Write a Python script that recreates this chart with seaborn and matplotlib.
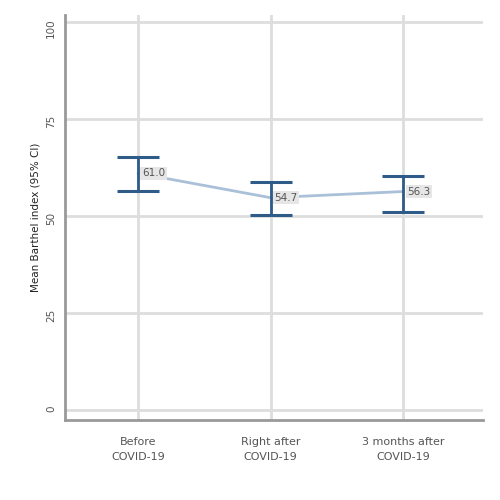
import numpy as np
import matplotlib
matplotlib.use("Agg")
import matplotlib.pyplot as plt
import pandas as pd
import seaborn as sns

categories = ["Before\nCOVID-19", "Right after\nCOVID-19", "3 months after\nCOVID-19"]
means = [61.0, 54.7, 56.3]
ci_low = [56.4, 50.3, 51.0]
ci_high = [65.1, 58.7, 60.3]

df = pd.DataFrame({"period": categories, "mean": means, "lo": ci_low, "hi": ci_high})

sns.set_style("whitegrid")
plt.rcParams['font.family'] = ['DejaVu Sans']
plt.rcParams['font.size'] = 7

fig = plt.figure(figsize=(5, 5), dpi=100)
ax = fig.add_axes([0.13, 0.16, 0.836, 0.81])

sns.lineplot(data=df, x="period", y="mean", sort=False, color="#a9c0d8", linewidth=2, ax=ax)
xs = np.arange(len(categories))
ax.errorbar(xs, df["mean"], yerr=[df["mean"] - df["lo"], df["hi"] - df["mean"]],
            fmt="none", ecolor="#2f5b88", elinewidth=2, capsize=15, capthick=2.2)

for x, m in zip(xs, means):
    ax.text(x + 0.03, m, f"{m:.1f}", ha="left", va="center", fontsize=7.5, color="#555555",
            bbox=dict(boxstyle="square,pad=0.15", fc="#e6e6e6", ec="none"))

ax.set_xlim(-0.55, 2.6)
ax.set_ylim(-2.6, 101.8)
ax.set_yticks([0, 25, 50, 75, 100])
ax.set_xticks(xs)
ax.set_xticklabels(categories, color="#555555", fontsize=8, linespacing=1.7)
ax.tick_params(axis="y", colors="#555555", length=3, rotation=90, labelsize=7.5)
ax.tick_params(axis="x", length=0, pad=12)
ax.set_xlabel("")
ax.set_ylabel("Mean Barthel index (95% CI)", fontsize=7.5, color="#222222")
ax.grid(color="#dddddd", linewidth=2)
for s in ["top", "right"]:
    ax.spines[s].set_visible(False)
for s in ["left", "bottom"]:
    ax.spines[s].set_color("#999999")
    ax.spines[s].set_linewidth(2)

fig.savefig("out.png", dpi=100)
